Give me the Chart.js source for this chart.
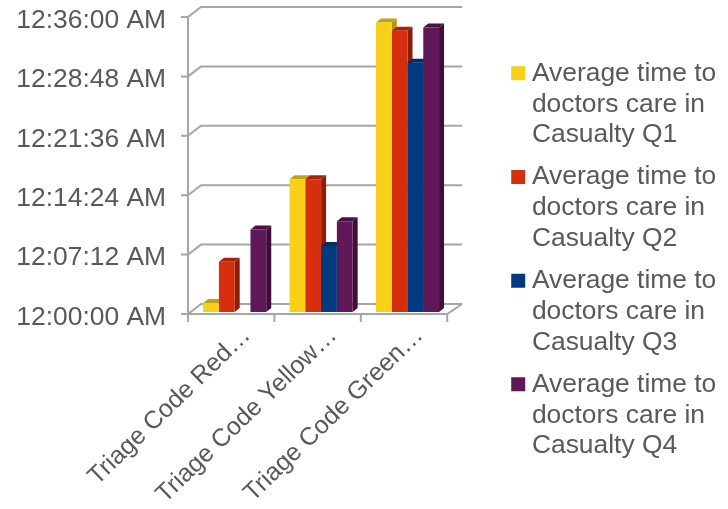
<!DOCTYPE html>
<html>
<head>
<meta charset="utf-8">
<style>
html, body { margin: 0; padding: 0; background: #fff; }
canvas { display: block; }
</style>
<script src="https://cdn.jsdelivr.net/npm/chart.js@4"></script>
</head>
<body>
<canvas id="myChart" width="728" height="509"></canvas>
<script>
var categories = ['Triage Code Red…', 'Triage Code Yellow…', 'Triage Code Green…'];
var timeTicks = ['12:00:00 AM', '12:07:12 AM', '12:14:24 AM', '12:21:36 AM', '12:28:48 AM', '12:36:00 AM'];

// minutes
var q1 = [1.1, 16.1, 35.1];
var q2 = [6.1, 16.1, 34.1];
var q3 = [null, 8.0, 30.2];
var q4 = [10.0, 11.0, 34.5];

var q1Label = ['Average time to', 'doctors care in', 'Casualty Q1'];
var q2Label = ['Average time to', 'doctors care in', 'Casualty Q2'];
var q3Label = ['Average time to', 'doctors care in', 'Casualty Q3'];
var q4Label = ['Average time to', 'doctors care in', 'Casualty Q4'];

var textColor = '#595959';
var gridColor = '#a6a6a6';

// fake 3D: walls and floor behind the bars
var wallPlugin = {
    id: 'wall',
    beforeDatasetsDraw: function(chart) {
        var c = chart.ctx, y = chart.scales.y, x = chart.scales.x;
        var cat = x.getPixelForTick(1) - x.getPixelForTick(0);
        var left = chart.chartArea.left - 3.5;
        var right = left + cat * categories.length;
        c.save();
        c.strokeStyle = gridColor;
        c.lineWidth = 2;
        c.beginPath();
        y.ticks.forEach(function(t, i) {
            var py = y.getPixelForTick(i) + 2;
            c.moveTo(left - 7, py);
            c.lineTo(left, py);
            c.lineTo(left + 13, py - 10);
            c.lineTo(right + 15, py - 10);
        });
        var y0 = y.getPixelForValue(0) + 2;
        var yTop = y.getPixelForValue(36) + 2;
        c.moveTo(left, yTop);
        c.lineTo(left, y0);
        c.lineTo(right, y0);
        c.lineTo(right + 15, y0 - 10);
        for (var i = 0; i <= categories.length; i++) {
            c.moveTo(left + cat * i, y0);
            c.lineTo(left + cat * i, y0 + 8);
        }
        c.stroke();

        // bar tops and right sides
        chart.data.datasets.forEach(function(ds, di) {
            chart.getDatasetMeta(di).data.forEach(function(bar, i) {
                if (ds.data[i] === null) return;
                var p = bar.getProps(['x', 'y', 'width', 'base'], true);
                var l = p.x - p.width / 2, r = p.x + p.width / 2;
                c.fillStyle = ds.topColor;
                c.beginPath();
                c.moveTo(l, p.y);
                c.lineTo(r, p.y);
                c.lineTo(r + 5, p.y - 4);
                c.lineTo(l + 5, p.y - 4);
                c.fill();
                c.fillStyle = ds.sideColor;
                c.beginPath();
                c.moveTo(r, p.y);
                c.lineTo(r + 5, p.y - 4);
                c.lineTo(r + 5, p.base - 4);
                c.lineTo(r, p.base);
                c.fill();
            });
        });
        c.restore();
    }
};

var ctx = document.getElementById('myChart').getContext('2d');
var myChart = new Chart(ctx, {
    type: 'bar',
    data: {
        labels: categories,
        datasets: [
            { label: q1Label, data: q1, backgroundColor: '#F7D117', topColor: '#C4A30F', sideColor: '#B5960E' },
            { label: q2Label, data: q2, backgroundColor: '#D62F10', topColor: '#A6240C', sideColor: '#8A1E0A' },
            { label: q3Label, data: q3, backgroundColor: '#003A80', topColor: '#002D66', sideColor: '#002656' },
            { label: q4Label, data: q4, backgroundColor: '#5F1858', topColor: '#4A1245', sideColor: '#3F0D38' }
        ]
    },
    plugins: [wallPlugin],
    options: {
        responsive: false,
        animation: false,
        barPercentage: 1,
        categoryPercentage: 0.73,
        layout: { padding: { top: 15, right: 13 } },
        font: { family: '"Liberation Sans"' },
        plugins: {
            tooltip: { enabled: false },
            legend: {
                position: 'right',
                maxWidth: 230,
                labels: {
                    usePointStyle: true,
                    pointStyle: 'rect',
                    boxWidth: 1,
                    boxHeight: 14,
                    padding: 11,
                    color: textColor,
                    font: { family: '"Liberation Sans"', size: 26.4, lineHeight: 1.17 }
                }
            }
        },
        scales: {
            x: {
                grid: { display: false, drawTicks: false },
                border: { display: false },
                afterFit: function(s) { s.height = 197; },
                ticks: {
                    autoSkip: false,
                    minRotation: 44,
                    maxRotation: 44,
                    padding: 9,
                    labelOffset: 12,
                    color: textColor,
                    font: { family: '"Liberation Sans"', size: 25 }
                }
            },
            y: {
                min: 0,
                max: 36,
                grid: { display: false, drawTicks: false },
                border: { display: false },
                afterFit: function(s) { s.width = 191.5; s.paddingTop = 0; s.paddingBottom = 0; },
                ticks: {
                    stepSize: 7.2,
                    padding: 25.5,
                    labelOffset: 5.5,
                    color: textColor,
                    font: { family: '"Liberation Sans"', size: 26.4 },
                    callback: function(v, i) { return timeTicks[i]; }
                }
            },
            // empty room between the plot and the legend
            gap: {
                axis: 'y',
                position: 'right',
                grid: { display: false, drawTicks: false },
                border: { display: false },
                ticks: { display: false },
                afterFit: function(s) { s.width = 56; }
            }
        }
    }
});
</script>
</body>
</html>
